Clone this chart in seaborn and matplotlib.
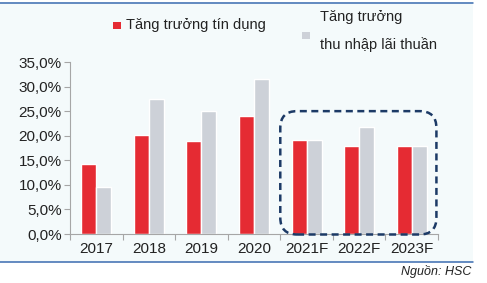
import matplotlib
matplotlib.use("Agg")
import matplotlib.pyplot as plt
import seaborn as sns
import pandas as pd
from matplotlib.patches import FancyBboxPatch, Rectangle
from matplotlib.lines import Line2D
from matplotlib.ticker import FixedLocator, FuncFormatter

years = ["2017", "2018", "2019", "2020", "2021F", "2022F", "2023F"]
credit_growth = [14.2, 20.1, 19.0, 24.0, 19.1, 17.9, 17.9]
nii_growth = [9.6, 27.5, 25.0, 31.5, 19.1, 21.7, 17.9]
series_names = ["Tăng trưởng tín dụng", "Tăng trưởng\nthu nhập lãi thuần"]
source_text = "Nguồn: HSC"

df = pd.DataFrame({
    "year": years * 2,
    "value": credit_growth + nii_growth,
    "series": [series_names[0]] * len(years) + [series_names[1]] * len(years),
})

sns.set_theme(style="white")
plt.rcParams["font.family"] = ["Liberation Sans", "DejaVu Sans"]

RED = "#E52B33"
GRAY = "#CDD1D8"
BG = "#F4FAFB"
NAVY = "#1C3A66"
BLUE_LINE = "#3A6BB0"

fig = plt.figure(figsize=(4.87, 2.83), dpi=100)
fig.patch.set_facecolor("white")
fig.add_artist(Rectangle((0, 1 - 262 / 283), 473 / 487, 260 / 283,
                         transform=fig.transFigure, facecolor=BG,
                         edgecolor="none", zorder=-10))
fig.add_artist(Line2D([0, 473 / 487], [1 - 2.5 / 283] * 2, transform=fig.transFigure,
                      color=BLUE_LINE, lw=1.1))
fig.add_artist(Line2D([0, 473 / 487], [1 - 262 / 283] * 2, transform=fig.transFigure,
                      color=BLUE_LINE, lw=1.1))

ax = fig.add_axes([70 / 487, 1 - 234 / 283, (438 - 70) / 487, (234 - 62) / 283])
ax.set_facecolor("none")
sns.barplot(data=df, x="year", y="value", hue="series", order=years,
            hue_order=series_names, palette=[RED, GRAY], width=0.57, gap=0,
            saturation=1, ax=ax, legend=False)

ax.set_ylim(0, 35)
ax.set_xlim(-0.5, len(years) - 0.5)
ax.set_yticks([0, 5, 10, 15, 20, 25, 30, 35])
ax.yaxis.set_major_formatter(FuncFormatter(lambda v, p: f"{v:.1f}%".replace(".", ",")))
ax.xaxis.set_minor_locator(FixedLocator([i - 0.5 for i in range(len(years) + 1)]))
ax.tick_params(axis="x", which="major", length=0, pad=6, labelsize=11, colors="#222222")
ax.tick_params(axis="x", which="minor", length=4, width=0.8, color="#A6A6A6", direction="out", bottom=True)
ax.tick_params(axis="y", which="major", length=4, width=0.8, color="#A6A6A6", direction="out",
               left=True, pad=2, labelsize=11, labelcolor="#222222")
ax.set_xlabel("")
ax.set_ylabel("")
for s in ["top", "right"]:
    ax.spines[s].set_visible(False)
for s in ["left", "bottom"]:
    ax.spines[s].set_color("#A6A6A6")
    ax.spines[s].set_linewidth(0.8)

# dashed rounded box around forecasts
box = FancyBboxPatch((3.5, -0.1), 2.97, 25.1,
                     boxstyle="round,pad=0,rounding_size=0.32",
                     mutation_aspect=35 / 172 * 52.6,
                     facecolor="none", edgecolor=NAVY, lw=1.8,
                     linestyle=(0, (2.8, 1.8)), clip_on=False, zorder=5)
ax.add_patch(box)

# legend
fig.add_artist(Rectangle((113 / 487, 1 - 29 / 283), 7.5 / 487, 7.5 / 283,
                         transform=fig.transFigure, facecolor=RED, edgecolor="none"))
fig.text(126 / 487, 1 - 25 / 283, series_names[0], fontsize=10.5, color="#222222",
         va="center", ha="left")
fig.add_artist(Rectangle((302 / 487, 1 - 39 / 283), 7.5 / 487, 7.5 / 283,
                         transform=fig.transFigure, facecolor=GRAY, edgecolor="none"))
l1, l2 = series_names[1].split("\n")
fig.text(320 / 487, 1 - 17 / 283, l1, fontsize=10.5, color="#222222", va="center", ha="left")
fig.text(320 / 487, 1 - 45 / 283, l2, fontsize=10.5, color="#222222", va="center", ha="left")

fig.text(471 / 487, 1 - 272 / 283, source_text, fontsize=9, style="italic",
         color="#222222", ha="right", va="center")

fig.savefig("out.png", dpi=100, facecolor="white")
